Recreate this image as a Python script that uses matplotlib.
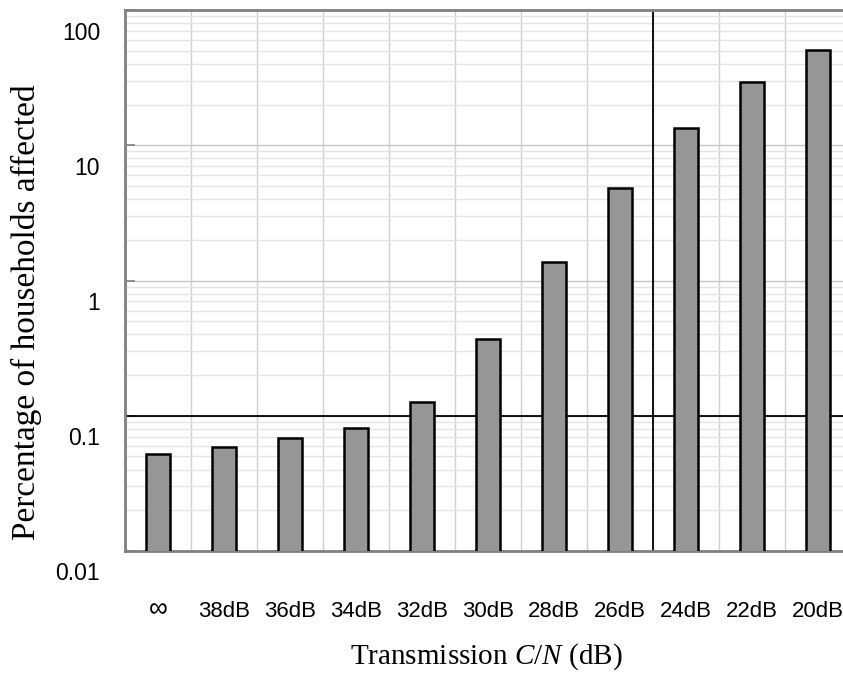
import numpy as np
import matplotlib
matplotlib.use("Agg")
import matplotlib.pyplot as plt
from matplotlib.transforms import ScaledTranslation
from matplotlib.ticker import LogLocator

# Share of households affected at each transmission C/N
categories = ["∞", "38dB", "36dB", "34dB", "32dB", "30dB", "28dB", "26dB", "24dB", "22dB", "20dB"]
affected_pct = [0.052, 0.059, 0.068, 0.081, 0.126, 0.37, 1.37, 4.85, 13.4, 29.4, 51.0]

y_ticks = [0.01, 0.1, 1, 10, 100]
y_tick_labels = ["0.01", "0.1", "1", "10", "100"]

threshold_pct = 0.1      # horizontal reference line
boundary_after = "26dB"  # vertical reference line sits after this category

plt.rcParams["mathtext.fontset"] = "custom"
plt.rcParams["mathtext.rm"] = "Liberation Serif"
plt.rcParams["mathtext.it"] = "Liberation Serif:italic"

sans = ["Liberation Sans", "DejaVu Sans"]
serif = ["Liberation Serif", "DejaVu Serif"]

W, H = 843, 697
fig = plt.figure(figsize=(W / 100, H / 100), dpi=100)
ax = fig.add_axes([125 / W, 146 / H, 726 / W, 541 / H])

x = np.arange(len(categories))
ax.set_yscale("log")
ax.set_ylim(y_ticks[0], y_ticks[-1])
ax.set_xlim(-0.5, len(categories) - 0.5)

# grid: decades, minor log steps, category boundaries
ax.yaxis.set_major_locator(LogLocator(base=10, numticks=10))
ax.yaxis.set_minor_locator(LogLocator(base=10, subs=np.arange(2, 10), numticks=10))
ax.grid(which="major", axis="y", color="#c4c4c4", lw=1.0)
ax.grid(which="minor", axis="y", color="#e4e4e4", lw=1.0)
ax.set_xticks(x)
ax.set_xticklabels(categories, fontsize=16, family=sans)
ax.set_xticks(np.arange(len(categories) + 1) - 0.5, minor=True)
ax.grid(which="minor", axis="x", color="#d0d0d0", lw=1.0)
ax.set_axisbelow(True)

ax.axhline(threshold_pct, color="black", lw=1.3, zorder=2)
ax.axvline(categories.index(boundary_after) + 0.5, color="black", lw=1.3, zorder=2)

ax.bar(x, affected_pct, width=0.37, color="#969696", edgecolor="black", lw=1.8, zorder=3)

ax.tick_params(axis="x", which="both", length=0, pad=36)
ax.tick_params(axis="y", which="major", direction="in", length=7, color="#808080",
               width=1.2, labelleft=False)
ax.tick_params(axis="y", which="minor", length=0, labelleft=False)

# the infinity sign is drawn larger and lifted to sit level with the dB labels
inf_label = ax.get_xticklabels()[0]
inf_label.set_fontsize(19)
inf_label.set_transform(inf_label.get_transform()
                        + ScaledTranslation(0, 0.04, fig.dpi_scale_trans))

for side in ("top", "left", "bottom"):
    ax.spines[side].set_color("#808080")
    ax.spines[side].set_linewidth(2)
ax.spines["right"].set_visible(False)

# decade labels, set slightly below their grid lines
lab_tf = ax.get_yaxis_transform() + ScaledTranslation(-0.25, -0.23, fig.dpi_scale_trans)
for v, lab in zip(y_ticks, y_tick_labels):
    ax.text(0, v, lab, transform=lab_tf, ha="right", va="center", fontsize=16.5, family=sans)

fig.text(26 / W, 1 - 312 / H, "Percentage of households affected", rotation=90,
         ha="center", va="center", fontsize=24, family=serif)
fig.text(486 / W, 1 - 657 / H, "Transmission $C/N$ (dB)", ha="center", va="center",
         fontsize=21, family=serif)

fig.savefig("out.png", dpi=100)
